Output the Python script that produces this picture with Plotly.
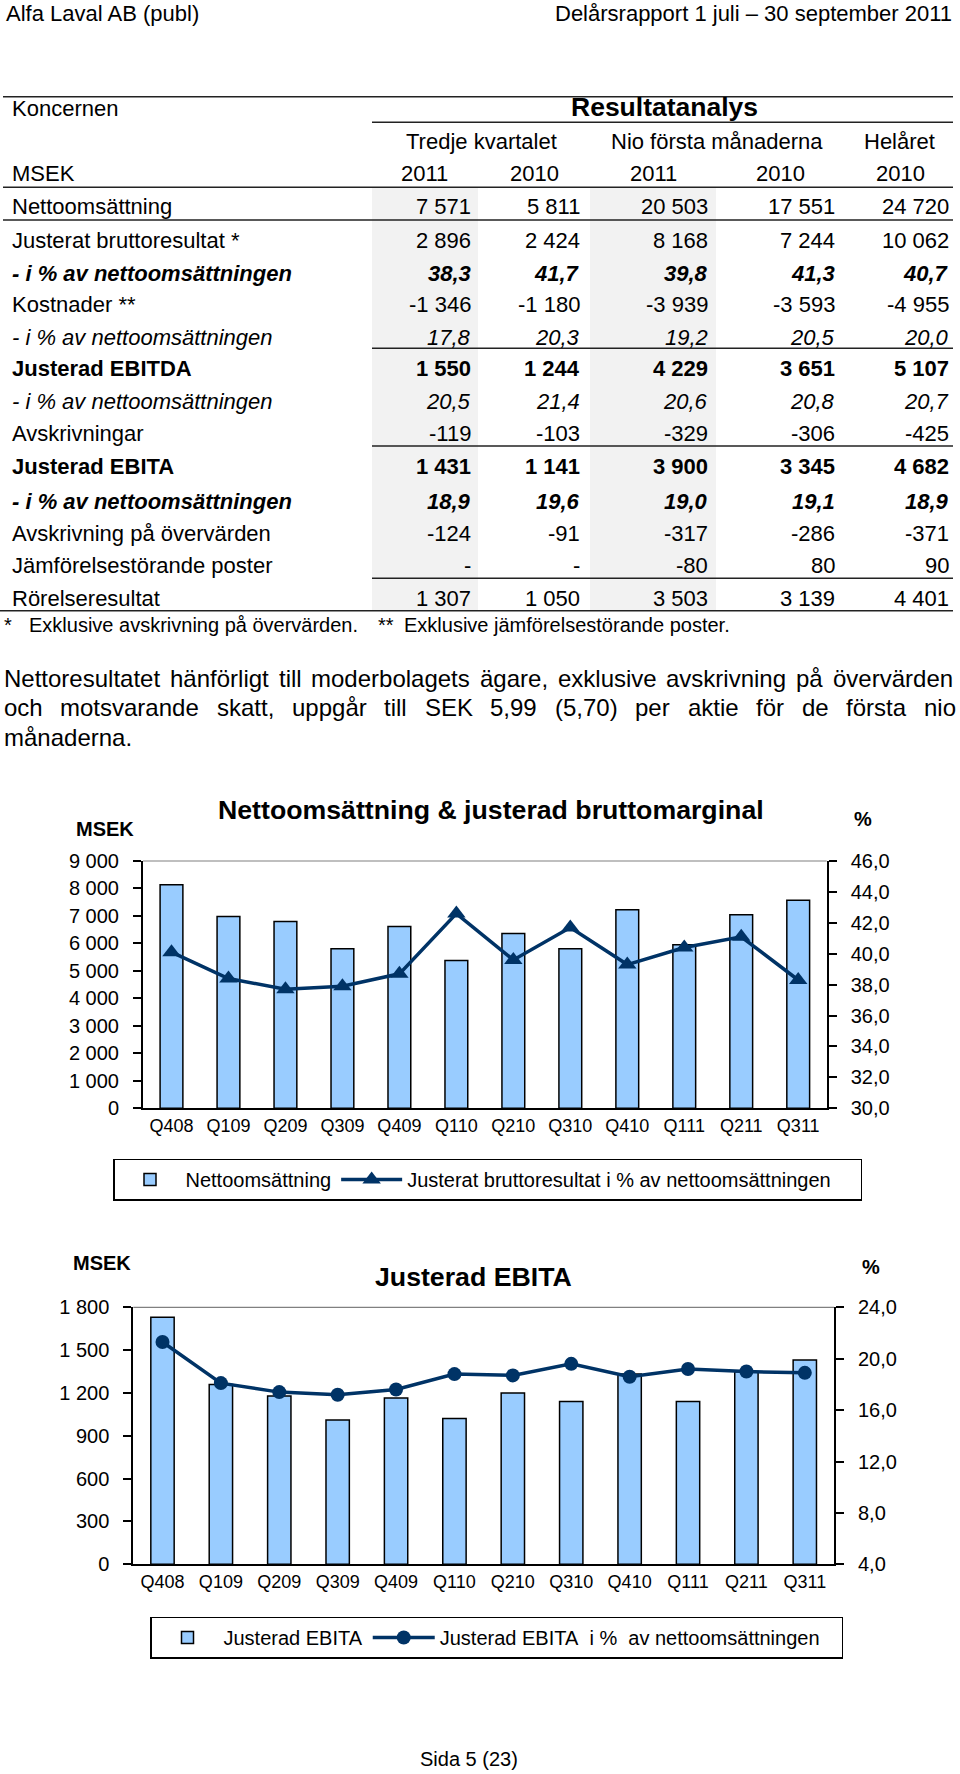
import plotly.graph_objects as go

W, H = 960, 1774
FONT = "Liberation Sans, Arial, Helvetica, sans-serif"

# ---------------- data ----------------
header_left = "Alfa Laval AB (publ)"
header_right = "Delårsrapport 1 juli – 30 september 2011"

table_title = "Resultatanalys"
period_headers = ["Tredje kvartalet", "Nio första månaderna", "Helåret"]
year_headers = ["2011", "2010", "2011", "2010", "2010"]
row_labels = [
    "Nettoomsättning", "Justerat bruttoresultat *", "- i % av nettoomsättningen",
    "Kostnader **", "- i % av nettoomsättningen", "Justerad EBITDA",
    "- i % av nettoomsättningen", "Avskrivningar", "Justerad EBITA",
    "- i % av nettoomsättningen", "Avskrivning på övervärden",
    "Jämförelsestörande poster", "Rörelseresultat",
]
q3_2011 = ["7 571", "2 896", "38,3", "-1 346", "17,8", "1 550", "20,5", "-119", "1 431", "18,9", "-124", "-", "1 307"]
q3_2010 = ["5 811", "2 424", "41,7", "-1 180", "20,3", "1 244", "21,4", "-103", "1 141", "19,6", "-91", "-", "1 050"]
ytd_2011 = ["20 503", "8 168", "39,8", "-3 939", "19,2", "4 229", "20,6", "-329", "3 900", "19,0", "-317", "-80", "3 503"]
ytd_2010 = ["17 551", "7 244", "41,3", "-3 593", "20,5", "3 651", "20,8", "-306", "3 345", "19,1", "-286", "80", "3 139"]
fy_2010 = ["24 720", "10 062", "40,7", "-4 955", "20,0", "5 107", "20,7", "-425", "4 682", "18,9", "-371", "90", "4 401"]

footnote_1 = "Exklusive avskrivning på övervärden."
footnote_2 = "Exklusive jämförelsestörande poster."
paragraph_lines = [
    "Nettoresultatet hänförligt till moderbolagets ägare, exklusive avskrivning på övervärden",
    "och motsvarande skatt, uppgår till SEK 5,99 (5,70) per aktie för de första nio",
    "månaderna.",
]

quarters = ["Q408", "Q109", "Q209", "Q309", "Q409", "Q110", "Q210", "Q310", "Q410", "Q111", "Q211", "Q311"]
net_sales = [8140, 6980, 6800, 5805, 6620, 5380, 6365, 5811, 7225, 5950, 7045, 7571]
gross_margin_pct = [40.1, 38.4, 37.7, 37.9, 38.7, 42.6, 39.6, 41.7, 39.3, 40.4, 41.1, 38.3]
adj_ebita = [1730, 1260, 1178, 1010, 1165, 1022, 1200, 1141, 1333, 1140, 1349, 1431]
adj_ebita_pct = [21.3, 18.1, 17.4, 17.2, 17.6, 18.8, 18.7, 19.6, 18.6, 19.2, 19.0, 18.9]

chart1_title = "Nettoomsättning & justerad bruttomarginal"
chart2_title = "Justerad EBITA"
page_footer = "Sida 5 (23)"

# ---------------- styles / layout helpers ----------------
row_styles = ["n", "n", "bi", "n", "i", "b", "i", "n", "b", "bi", "n", "n", "n"]
row_y = [206.7, 240, 273.3, 304, 337.5, 368.5, 401.7, 433.3, 466.7, 502, 533, 565, 598]
col_right = [472, 580.5, 709, 836, 950]
year_center = [424, 534, 653, 780, 900]
period_center = [481.7, 717, 899.6]

NAVY = "#003366"
BARBLUE = "#99CCFF"

annotations = []
shapes = []


def X(x):
    return x / W


def Y(y):
    return 1 - y / H


def text(s, x, y, size, xanchor="left", style="n", family=FONT, color="black"):
    if "b" in style:
        s = f"<b>{s}</b>"
    if "i" in style:
        s = f"<i>{s}</i>"
    annotations.append(dict(
        text=s, x=X(x), y=Y(y), xref="paper", yref="paper",
        xanchor=xanchor, yanchor="middle", showarrow=False, borderpad=0,
        font=dict(size=size, family=family, color=color),
    ))


def hline(x0, x1, y, width=1.5, color="#222222"):
    shapes.append(dict(type="line", xref="paper", yref="paper",
                       x0=X(x0), x1=X(x1), y0=Y(y), y1=Y(y),
                       line=dict(color=color, width=width)))


def rect(x0, x1, y0, y1, color):
    shapes.append(dict(type="rect", xref="paper", yref="paper", layer="below",
                       x0=X(x0), x1=X(x1), y0=Y(y1), y1=Y(y0),
                       fillcolor=color, line=dict(width=0)))


# Arial / Liberation Sans advance widths (1/1000 em) for justification
AW = {" ": 278, ",": 278, ".": 278, "(": 333, ")": 333, "%": 889, "-": 333, "*": 389}
for c in "abdeghnopqu0123456789åäöü":
    AW[c] = 556
for c, w in zip("cfijklmrstvwxyz", [500, 278, 222, 222, 500, 222, 833, 333, 500, 278, 500, 722, 500, 500, 500]):
    AW[c] = w
for c, w in zip("ABCDEFGHIJKLMNOPQRSTUVWXYZ",
                [667, 667, 722, 722, 667, 611, 778, 722, 278, 500, 667, 556, 833, 722, 778, 667, 778, 722, 667, 611, 722, 667, 944, 667, 667, 611]):
    AW[c] = w


def tw(s, size):
    return sum(AW.get(c, 556) for c in s) * size / 1000.0


def justify(line, x0, x1, y, size):
    words = line.split(" ")
    total = sum(tw(w, size) for w in words)
    gap = (x1 - x0 - total) / (len(words) - 1)
    x = x0
    for w in words:
        text(w, x, y, size)
        x += tw(w, size) + gap


# ---------------- page header ----------------
text(header_left, 5, 14, 22)
text(header_right, 953, 14, 22, xanchor="right")

# ---------------- table ----------------
rect(372, 478, 188, 610.7, "#F2F2F2")
rect(590, 716, 188, 610.7, "#F2F2F2")
hline(3, 953, 96.7)
hline(372, 953, 122.3)
hline(3, 953, 187.3)
hline(3, 953, 220)
hline(372, 953, 348.3)
hline(372, 953, 446)
hline(372, 953, 578.3)
hline(0, 953, 610.7)

text("Koncernen", 11, 108.3, 22)
text(table_title, 664, 107, 26.5, xanchor="center", style="b")
for s, cx in zip(period_headers, period_center):
    text(s, cx, 141.7, 22, xanchor="center")
text("MSEK", 11, 173.3, 22)
for s, cx in zip(year_headers, year_center):
    text(s, cx, 173.3, 22, xanchor="center")

columns = [q3_2011, q3_2010, ytd_2011, ytd_2010, fy_2010]
for i, (lab, st, y) in enumerate(zip(row_labels, row_styles, row_y)):
    text(lab, 11, y, 22, style=st)
    for col, xr in zip(columns, col_right):
        text(col[i], xr, y, 22, xanchor="right", style=st)

text("*", 3, 625, 20)
text(footnote_1, 27.5, 625, 20)
text("**", 376.6, 625, 20)
text(footnote_2, 403, 625, 20)

justify(paragraph_lines[0], 3, 952, 678, 24)
justify(paragraph_lines[1], 3, 955, 707, 24)
text(paragraph_lines[2], 3, 737, 24)

# ---------------- chart titles / unit labels ----------------
text(chart1_title, 490.5, 810, 26.7, xanchor="center", style="b")
text("MSEK", 75, 829, 20, style="b")
text("%", 863, 819, 20, xanchor="center", style="b")

text(chart2_title, 473, 1277, 26.7, xanchor="center", style="b")
text("MSEK", 72, 1263, 20, style="b")
text("%", 870.5, 1267, 20, xanchor="center", style="b")

text(page_footer, 469, 1759, 20, xanchor="center")

# top border lines of the plot areas
shapes.append(dict(type="line", xref="x domain", yref="y domain", x0=0, x1=1, y0=1, y1=1,
                   line=dict(color="#808080", width=1.2)))
shapes.append(dict(type="line", xref="x2 domain", yref="y3 domain", x0=0, x1=1, y0=1, y1=1,
                   line=dict(color="#808080", width=1.2)))

# ---------------- traces ----------------
fig = go.Figure()
fig.add_trace(go.Bar(
    x=quarters, y=net_sales, name="Nettoomsättning", xaxis="x", yaxis="y",
    width=0.4, marker=dict(color=BARBLUE, line=dict(color="black", width=1.5)),
    legend="legend",
))
fig.add_trace(go.Scatter(
    x=quarters, y=gross_margin_pct, name="Justerat bruttoresultat i % av nettoomsättningen",
    xaxis="x", yaxis="y2", mode="lines+markers",
    line=dict(color=NAVY, width=3.5),
    marker=dict(symbol="triangle-up", size=16, color=NAVY),
    legend="legend", legendwidth=448,
))
fig.add_trace(go.Bar(
    x=quarters, y=adj_ebita, name="Justerad EBITA", xaxis="x2", yaxis="y3",
    width=0.4, marker=dict(color=BARBLUE, line=dict(color="black", width=1.5)),
    legend="legend2",
))
fig.add_trace(go.Scatter(
    x=quarters, y=adj_ebita_pct, name="Justerad EBITA\u00a0 i %\u00a0 av nettoomsättningen",
    xaxis="x2", yaxis="y4", mode="lines+markers",
    line=dict(color=NAVY, width=3.5),
    marker=dict(symbol="circle", size=14, color=NAVY),
    legend="legend2", legendwidth=396,
))

axis_common = dict(showgrid=False, zeroline=False, showline=True, linecolor="black",
                   linewidth=2, fixedrange=True, tickfont=dict(size=20, family=FONT, color="black"))
ytick = dict(ticks="outside", ticklen=8, tickwidth=1.5, tickcolor="black", ticklabelstandoff=10)
inner_tick = dict(ticks="inside", ticklen=7, tickwidth=1.5, tickcolor="black", showticklabels=False,
                  showgrid=False, zeroline=False, showline=False, fixedrange=True)
xcommon = {k: v for k, v in axis_common.items() if k != "tickfont"}

c1_dom_x = [X(143), X(826.7)]
c1_dom_y = [Y(1108.3), Y(861)]
c2_dom_x = [X(133.3), X(834)]
c2_dom_y = [Y(1564.3), Y(1307.3)]

legend_common = dict(xanchor="left", yanchor="middle", orientation="h",
                     bordercolor="black", borderwidth=1.5, bgcolor="white",
                     font=dict(size=20, family=FONT, color="black"),
                     traceorder="normal", itemclick=False, itemdoubleclick=False)

fig.update_layout(
    width=W, height=H, autosize=False,
    margin=dict(l=0, r=0, t=0, b=0, pad=0, autoexpand=False),
    paper_bgcolor="white", plot_bgcolor="rgba(0,0,0,0)",
    separators=", ",
    font=dict(family=FONT, color="black"),
    showlegend=True,
    xaxis=dict(domain=c1_dom_x, anchor="y", type="category", range=[-0.5, 11.5],
               ticks="", **xcommon, tickfont=dict(size=18, family=FONT, color="black")),
    yaxis=dict(domain=c1_dom_y, anchor="x", range=[0, 9000], dtick=1000, tick0=0,
               tickformat=",.0f", **axis_common, **ytick),
    yaxis2=dict(overlaying="y", anchor="x", side="right", range=[30, 46], dtick=2, tick0=30,
                tickformat=".1f", **axis_common, **ytick),
    yaxis5=dict(overlaying="y", anchor="x", side="left", range=[0, 9000], dtick=1000, tick0=0, **inner_tick),
    yaxis6=dict(overlaying="y", anchor="x", side="right", range=[30, 46], dtick=2, tick0=30, **inner_tick),
    xaxis2=dict(domain=c2_dom_x, anchor="y3", type="category", range=[-0.5, 11.5],
                ticks="", **xcommon, tickfont=dict(size=18, family=FONT, color="black")),
    yaxis3=dict(domain=c2_dom_y, anchor="x2", range=[0, 1800], dtick=300, tick0=0,
                tickformat=",.0f", **axis_common, **ytick),
    yaxis4=dict(overlaying="y3", anchor="x2", side="right", range=[4, 24], dtick=4, tick0=4,
                tickformat=".1f", **axis_common, **ytick),
    yaxis7=dict(overlaying="y3", anchor="x2", side="left", range=[0, 1800], dtick=300, tick0=0, **inner_tick),
    yaxis8=dict(overlaying="y3", anchor="x2", side="right", range=[4, 24], dtick=4, tick0=4, **inner_tick),
    legend=dict(x=X(113), y=Y(1179.5), itemwidth=61, **legend_common),
    legend2=dict(x=X(150), y=Y(1637.5), itemwidth=62, **legend_common),
    annotations=annotations,
    shapes=shapes,
)

fig.write_html(
    "out.html",
    config={"displayModeBar": False, "staticPlot": False},
    post_script="document.body.style.margin='0';document.body.style.overflow='hidden';",
)
